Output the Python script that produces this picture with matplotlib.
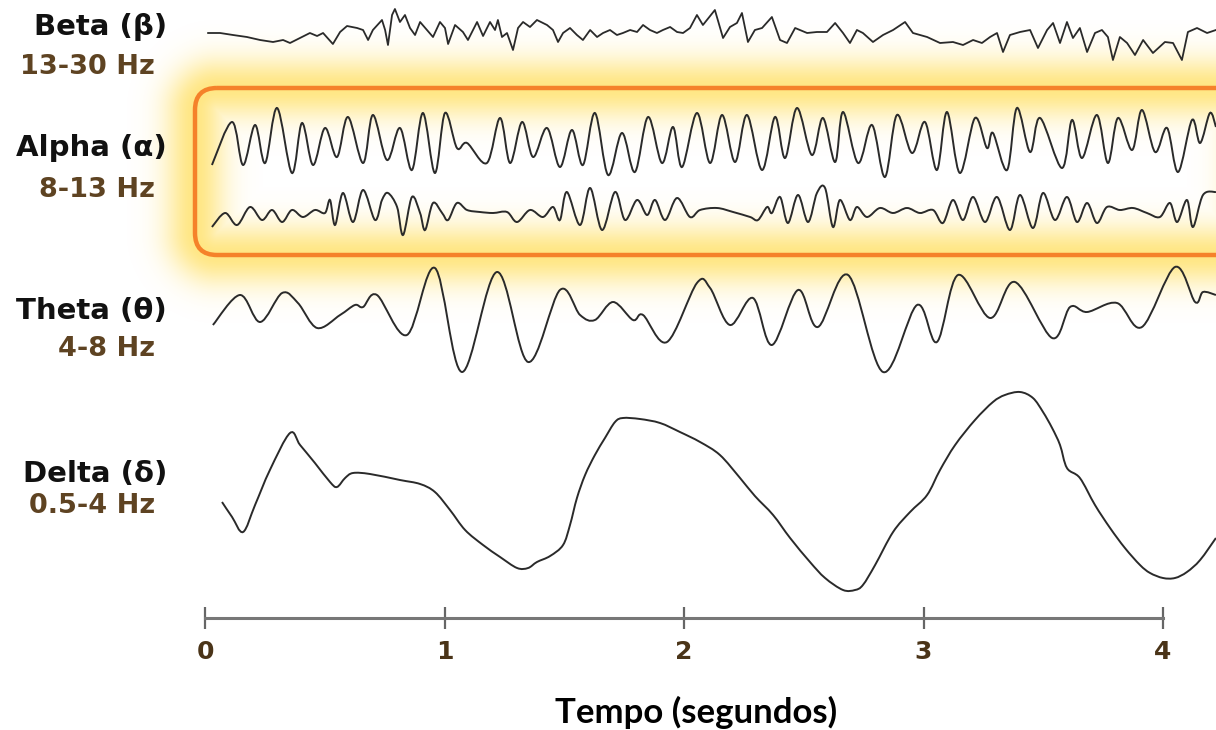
import numpy as np
import matplotlib.pyplot as plt
from matplotlib.path import Path
from matplotlib.patches import FancyBboxPatch, PathPatch

# EEG bands: time (s) and amplitude (uV, relative to each trace baseline)
beta_t = [0.013, 0.063, 0.117, 0.175, 0.230, 0.284, 0.326, 0.355, 0.397, 0.438,
          0.468, 0.493, 0.534, 0.564, 0.593, 0.635, 0.660, 0.681, 0.701, 0.739,
          0.752, 0.764, 0.781, 0.793, 0.814, 0.835, 0.856, 0.877, 0.898, 0.927,
          0.952, 0.981, 1.002, 1.015, 1.044, 1.077, 1.098, 1.136, 1.161, 1.190,
          1.211, 1.223, 1.240, 1.261, 1.286, 1.307, 1.328, 1.357, 1.386, 1.428,
          1.453, 1.474, 1.495, 1.524, 1.553, 1.578, 1.608, 1.637, 1.662, 1.691,
          1.720, 1.745, 1.775, 1.804, 1.829, 1.858, 1.887, 1.912, 1.942, 1.971,
          1.996, 2.025, 2.054, 2.079, 2.129, 2.163, 2.192, 2.221, 2.242, 2.267,
          2.296, 2.326, 2.367, 2.401, 2.430, 2.464, 2.514, 2.555, 2.597, 2.631,
          2.664, 2.693, 2.722, 2.747, 2.789, 2.831, 2.873, 2.923, 2.956, 3.015,
          3.069, 3.123, 3.165, 3.207, 3.244, 3.278, 3.307, 3.332, 3.361, 3.403,
          3.445, 3.478, 3.516, 3.541, 3.570, 3.599, 3.624, 3.653, 3.683, 3.716,
          3.745, 3.770, 3.791, 3.820, 3.850, 3.883, 3.917, 3.958, 4.008, 4.042,
          4.079, 4.104, 4.142, 4.184, 4.221]
beta_v = [0, 0, -2, -4, -7, -9, -7, -10, -5, 0,
          -3, 0, -11, 1, 7, 5, 3, -7, 3, 13,
          3, -12, 18, 24, 11, 18, 5, -2, 11, 3,
          -4, 11, 5, -11, 8, 1, -7, 11, -3, 11,
          3, 13, -4, 0, -17, 5, 11, 6, 13, 8,
          3, -9, 0, 5, -2, -7, 3, -4, 0, 3,
          -2, 0, 3, 1, 8, 3, 0, 3, 6, 1,
          0, 5, 18, 8, 23, -5, 6, 10, 20, -9,
          3, 5, 16, -7, -10, 5, 0, 1, 1, 10,
          0, -10, 3, 0, -9, -2, 3, 11, 0, -4,
          -10, -9, -12, -7, -10, -4, 0, -19, -2, 1,
          3, -15, 3, 10, -10, 11, -5, 5, -19, 0,
          3, -4, -27, -4, -10, -22, -7, -20, -9, -10,
          -27, 1, 5, 0, 3]

alpha1_t = [0.029, 0.113, 0.159, 0.209, 0.251, 0.301, 0.363, 0.405, 0.451, 0.501,
            0.551, 0.597, 0.660, 0.701, 0.760, 0.814, 0.864, 0.910, 0.960, 1.002,
            1.052, 1.094, 1.177, 1.232, 1.274, 1.324, 1.370, 1.428, 1.482, 1.532,
            1.578, 1.628, 1.683, 1.741, 1.795, 1.850, 1.908, 1.954, 1.992, 2.054,
            2.109, 2.159, 2.213, 2.263, 2.326, 2.380, 2.422, 2.472, 2.534, 2.580,
            2.631, 2.664, 2.727, 2.785, 2.839, 2.889, 2.952, 3.006, 3.056, 3.098,
            3.152, 3.215, 3.265, 3.290, 3.349, 3.390, 3.445, 3.487, 3.578, 3.620,
            3.662, 3.724, 3.770, 3.812, 3.871, 3.912, 3.967, 4.017, 4.063, 4.121,
            4.155, 4.196, 4.221]
alpha1_v = [-25, 18, -25, 15, -23, 32, -33, 17, -25, 12,
            -17, 23, -23, 25, -20, 12, -30, 27, -33, 27,
            -8, -3, -23, 22, -23, 18, -17, 12, -27, 10,
            -25, 27, -35, 7, -32, 23, -23, 13, -27, 27,
            -23, 25, -22, 25, -30, 23, -18, 32, -15, 22,
            -22, 28, -23, 15, -37, 25, -13, 18, -30, 28,
            -33, 22, -8, 7, -30, 32, -12, 22, -28, 20,
            -18, 25, -23, 22, -10, 30, -12, 12, -32, 20,
            -3, 27, 13]

alpha2_t = [0.029, 0.084, 0.134, 0.188, 0.238, 0.280, 0.322, 0.363, 0.409, 0.459,
            0.501, 0.522, 0.543, 0.576, 0.618, 0.660, 0.710, 0.739, 0.764, 0.802,
            0.827, 0.864, 0.898, 0.919, 0.952, 0.990, 1.015, 1.052, 1.094, 1.148,
            1.203, 1.261, 1.303, 1.357, 1.411, 1.453, 1.482, 1.511, 1.566, 1.608,
            1.658, 1.712, 1.754, 1.804, 1.846, 1.879, 1.921, 1.971, 2.025, 2.067,
            2.138, 2.205, 2.276, 2.309, 2.347, 2.367, 2.401, 2.434, 2.476, 2.518,
            2.555, 2.589, 2.622, 2.651, 2.693, 2.722, 2.764, 2.818, 2.873, 2.931,
            2.985, 3.040, 3.081, 3.123, 3.165, 3.207, 3.257, 3.307, 3.361, 3.403,
            3.457, 3.499, 3.549, 3.599, 3.641, 3.683, 3.724, 3.766, 3.820, 3.875,
            3.933, 3.987, 4.029, 4.059, 4.100, 4.125, 4.167, 4.221]
alpha2_v = [-15, -1, -13, 5, -8, 2, -10, 2, -5, 2,
            -1, 12, -13, 19, -10, 22, -8, 12, 19, 5,
            -23, 15, -1, -18, 9, -1, -8, 9, 2, 0,
            -1, 0, -10, 2, -5, 5, -8, 20, -13, 24,
            -18, 20, -8, 12, -3, 12, -8, 14, -5, 2,
            4, 0, -5, -8, 5, -1, 15, -11, 17, -10,
            19, 24, -15, 12, -8, 5, -5, 4, -1, 4,
            -1, 2, -11, 12, -8, 15, -10, 15, -18, 17,
            -16, 19, -8, 15, -10, 9, -11, 5, 2, 4,
            -1, -5, 9, -10, 12, -15, 17, 20]

theta_t = [0.033, 0.146, 0.230, 0.322, 0.388, 0.468, 0.564, 0.626, 0.660, 0.718,
           0.843, 0.960, 1.073, 1.219, 1.349, 1.482, 1.566, 1.628, 1.704, 1.787,
           1.829, 1.929, 2.054, 2.109, 2.192, 2.288, 2.367, 2.476, 2.559, 2.685,
           2.831, 2.973, 3.056, 3.144, 3.278, 3.382, 3.537, 3.612, 3.683, 3.808,
           3.912, 4.050, 4.134, 4.167, 4.221]
theta_v = [-10, 20, -7, 22, 12, -13, 0, 10, 8, 20,
           -20, 47, -57, 43, -47, 25, 0, -5, 13, -5,
           0, -27, 32, 27, -10, 17, -30, 25, -12, 40,
           -57, 10, -27, 40, -3, 33, -23, 8, 3, 12,
           -12, 48, 13, 23, 20]

delta_t = [0.071, 0.113, 0.159, 0.209, 0.271, 0.355, 0.397, 0.459, 0.522, 0.551,
           0.585, 0.618, 0.689, 0.814, 0.898, 0.960, 1.023, 1.086, 1.161, 1.232,
           1.303, 1.349, 1.386, 1.441, 1.495, 1.524, 1.553, 1.587, 1.628, 1.670,
           1.712, 1.745, 1.816, 1.900, 1.983, 2.067, 2.150, 2.234, 2.296, 2.372,
           2.443, 2.526, 2.589, 2.664, 2.714, 2.747, 2.798, 2.873, 2.944, 3.015,
           3.069, 3.132, 3.215, 3.290, 3.340, 3.403, 3.457, 3.499, 3.537, 3.570,
           3.599, 3.653, 3.716, 3.779, 3.841, 3.904, 3.946, 4.000, 4.050, 4.100,
           4.155, 4.221]
delta_v = [-12, -27, -42, -15, 20, 57, 45, 27, 8, 3,
           12, 17, 16, 10, 6, -2, -20, -40, -55, -67,
           -78, -78, -72, -66, -55, -35, -8, 15, 35, 52,
           68, 72, 71, 67, 58, 48, 35, 12, -6, -25,
           -48, -72, -88, -100, -100, -95, -75, -42, -22, -5,
           20, 45, 70, 88, 95, 98, 92, 78, 62, 45,
           22, 12, -15, -38, -58, -75, -83, -88, -88, -82,
           -70, -48]

band_names = ['Beta (\u03b2)', 'Alpha (\u03b1)', 'Theta (\u03b8)', 'Delta (\u03b4)']
band_ranges = ['13-30 Hz', '8-13 Hz', '4-8 Hz', '0.5-4 Hz']
time_ticks = [0, 1, 2, 3, 4]


def smooth_path(x, y):
    # Catmull-Rom through the points, drawn as cubic Bezier segments
    p = np.column_stack([x, y]).astype(float)
    p = np.vstack([p[0], p, p[-1]])
    verts = [p[1]]
    codes = [Path.MOVETO]
    for i in range(1, len(p) - 2):
        c1 = p[i] + (p[i + 1] - p[i - 1]) / 6
        c2 = p[i + 1] - (p[i + 2] - p[i]) / 6
        verts += [c1, c2, p[i + 1]]
        codes += [Path.CURVE4] * 3
    return Path(verts, codes)


W, H = 1216, 730
fig = plt.figure(figsize=(W / 100, H / 100), dpi=100)

# decoration layer in pixel units (highlight box + labels)
deco = fig.add_axes([0, 0, 1, 1])
deco.axis('off')

bx0, by0, bx1, by1, rad = 195, 88, 1255, 255, 22
gx, gy = np.meshgrid(np.arange(W) + 0.5, np.arange(H) + 0.5)
cx, cy = (bx0 + bx1) / 2, (by0 + by1) / 2
qx = np.abs(gx - cx) - ((bx1 - bx0) / 2 - rad)
qy = np.abs(gy - cy) - ((by1 - by0) / 2 - rad)
sd = (np.hypot(np.maximum(qx, 0), np.maximum(qy, 0))
      + np.minimum(np.maximum(qx, qy), 0) - rad)
glow = np.zeros((H, W, 4))
glow[..., 0] = 1.0
glow[..., 1] = 0.87
glow[..., 2] = 0.33
glow[..., 3] = 0.72 * np.exp(-(np.abs(sd) / 30) ** 2)
deco.imshow(glow, extent=(0, W, H, 0), interpolation='bilinear', zorder=0)
deco.set_xlim(0, W)
deco.set_ylim(H, 0)

deco.add_patch(FancyBboxPatch((bx0, by0), bx1 - bx0, by1 - by0,
                              boxstyle='round,pad=0,rounding_size=%d' % rad,
                              fill=False, edgecolor='#f5822a', lw=3.2, zorder=2))

name_y = [27, 148, 311, 474]
range_y = [67, 190, 349, 506]
for nm, rg, yn, yr in zip(band_names, band_ranges, name_y, range_y):
    deco.text(167, yn, nm, ha='right', va='center', fontsize=21,
              fontweight='bold', color='#111111', family='DejaVu Sans')
    deco.text(155, yr, rg, ha='right', va='center', fontsize=19.5,
              fontweight='bold', color='#5e4322', family='DejaVu Sans')

# data layer: x in seconds, y in uV with stacked offsets
ax = fig.add_axes([0, 0, 1, 1])
ax.patch.set_alpha(0)
ax.set_xlim(-205 / 239.5, 1011 / 239.5)
ax.set_ylim(0, H)

traces = [(beta_t, beta_v), (alpha1_t, alpha1_v), (alpha2_t, alpha2_v),
          (theta_t, theta_v), (delta_t, delta_v)]
offsets = [697, 590, 518, 415, 240]
for k, ((t, v), off) in enumerate(zip(traces, offsets)):
    yv = np.array(v) + off
    if k == 0:
        ax.plot(t, yv, color='#2a2a2a', lw=1.3, solid_joinstyle='round',
                zorder=3)
    else:
        ax.add_patch(PathPatch(smooth_path(t, yv), fill=False,
                               edgecolor='#2a2a2a', lw=1.4, zorder=3))

for s in ['top', 'left', 'right']:
    ax.spines[s].set_visible(False)
ax.spines['bottom'].set_position(('data', 112))
ax.spines['bottom'].set_bounds(0, 4)
ax.spines['bottom'].set_color('#777777')
ax.spines['bottom'].set_linewidth(2.2)
ax.yaxis.set_visible(False)
ax.set_xticks(time_ticks)
ax.set_xticklabels([str(k) for k in time_ticks])
ax.tick_params(axis='x', direction='inout', length=16, width=1.6,
               color='#666666', labelcolor='#4a3418', labelsize=18, pad=8)
for lab in ax.get_xticklabels():
    lab.set_fontweight('bold')
    lab.set_family('DejaVu Sans')

fig.text(696 / W, 1 - 712 / H, 'Tempo (segundos)', ha='center', va='center',
         fontsize=25, fontweight='bold', family='Lato', color='black')

fig.savefig('out.png', dpi=100)
